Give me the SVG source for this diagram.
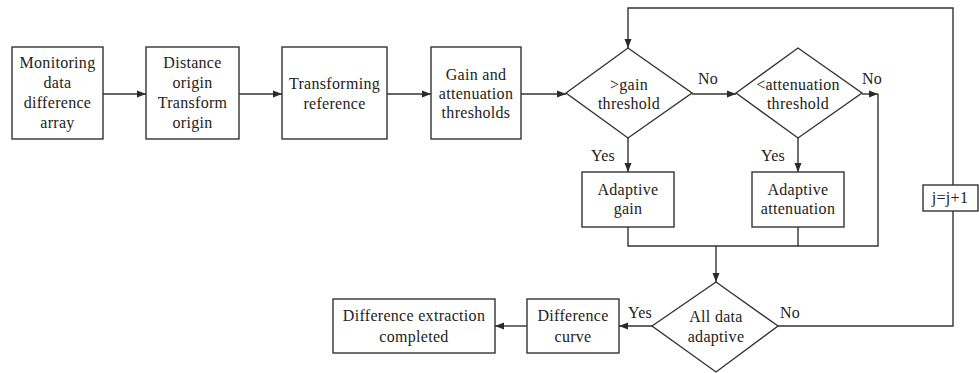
<svg xmlns="http://www.w3.org/2000/svg" width="979" height="373" viewBox="0 0 979 373">
<defs>
<marker id="ah" markerWidth="10" markerHeight="8" refX="9" refY="4" orient="auto" markerUnits="userSpaceOnUse">
<path d="M0,0.5 L9,4 L0,7.5 Z" fill="#2a2a2a"/>
</marker>
<style>
.b{fill:#fff;stroke:#333;stroke-width:1.4}
.t{font-family:"Liberation Serif","Times New Roman",serif;font-size:16px;letter-spacing:0.3px;fill:#222;text-anchor:middle}
.c{fill:none;stroke:#333;stroke-width:1.4}
.a{marker-end:url(#ah)}
</style>
</defs>
<rect width="979" height="373" fill="#fff"/>
<g id="connectors">
<line class="c a" x1="103" y1="94" x2="146" y2="94"/>
<line class="c a" x1="239" y1="94" x2="282" y2="94"/>
<line class="c a" x1="387" y1="94" x2="431" y2="94"/>
<line class="c a" x1="521" y1="94" x2="566" y2="94"/>
<line class="c a" x1="692" y1="94" x2="736" y2="94"/>
<line class="c a" x1="862" y1="94" x2="878" y2="94"/>
<polyline class="c" points="878,94 878,246 628,246 628,227"/>
<line class="c" x1="798" y1="227" x2="798" y2="246"/>
<line class="c a" x1="628" y1="138" x2="628" y2="172"/>
<line class="c a" x1="798" y1="138" x2="798" y2="172"/>
<line class="c a" x1="716" y1="246" x2="716" y2="282"/>
<line class="c a" x1="652" y1="326" x2="619" y2="326"/>
<line class="c a" x1="527" y1="326" x2="495" y2="326"/>
<polyline class="c" points="778,326 953,326 953,211"/>
<polyline class="c a" points="953,185 953,8 628,8 628,48"/>
<text class="t" x="708" y="84">No</text>
<text class="t" x="872" y="84">No</text>
<text class="t" x="603" y="161">Yes</text>
<text class="t" x="773" y="161">Yes</text>
<text class="t" x="640" y="318">Yes</text>
<text class="t" x="790" y="318">No</text>
</g>
<g id="n1"><rect class="b" x="12" y="47" width="91" height="92"/>
<text class="t" x="57.5" y="68">Monitoring</text><text class="t" x="57.5" y="88">data</text><text class="t" x="57.5" y="108">difference</text><text class="t" x="57.5" y="128">array</text></g>
<g id="n2"><rect class="b" x="146" y="47" width="93" height="92"/>
<text class="t" x="192.5" y="68">Distance</text><text class="t" x="192.5" y="88">origin</text><text class="t" x="192.5" y="108">Transform</text><text class="t" x="192.5" y="128">origin</text></g>
<g id="n3"><rect class="b" x="282" y="47" width="105" height="92"/>
<text class="t" x="334.5" y="89">Transforming</text><text class="t" x="334.5" y="109">reference</text></g>
<g id="n4"><rect class="b" x="431" y="47" width="90" height="92"/>
<text class="t" x="476" y="80">Gain and</text><text class="t" x="476" y="99">attenuation</text><text class="t" x="476" y="118">thresholds</text></g>
<g id="d1"><polygon class="b" points="566,93 628,48 692,93 628,138"/>
<text class="t" x="629" y="90">&gt;gain</text><text class="t" x="629" y="109">threshold</text></g>
<g id="d2"><polygon class="b" points="736,93 798,48 862,93 798,138"/>
<text class="t" x="798" y="90">&lt;attenuation</text><text class="t" x="798" y="109">threshold</text></g>
<g id="n5"><rect class="b" x="582" y="172" width="92" height="55"/>
<text class="t" x="628" y="195">Adaptive</text><text class="t" x="628" y="214">gain</text></g>
<g id="n6"><rect class="b" x="752" y="172" width="92" height="55"/>
<text class="t" x="798" y="195">Adaptive</text><text class="t" x="798" y="214">attenuation</text></g>
<g id="n7"><rect class="b" x="923" y="185" width="55" height="26"/>
<text class="t" x="950" y="203">j=j+1</text></g>
<g id="d3"><polygon class="b" points="652,326 716,282 778,326 716,372"/>
<text class="t" x="716" y="322">All data</text><text class="t" x="716" y="342">adaptive</text></g>
<g id="n8"><rect class="b" x="527" y="299" width="92" height="54"/>
<text class="t" x="573" y="321">Difference</text><text class="t" x="573" y="342">curve</text></g>
<g id="n9"><rect class="b" x="333" y="299" width="162" height="54"/>
<text class="t" x="414" y="321">Difference extraction</text><text class="t" x="414" y="342">completed</text></g>
</svg>
